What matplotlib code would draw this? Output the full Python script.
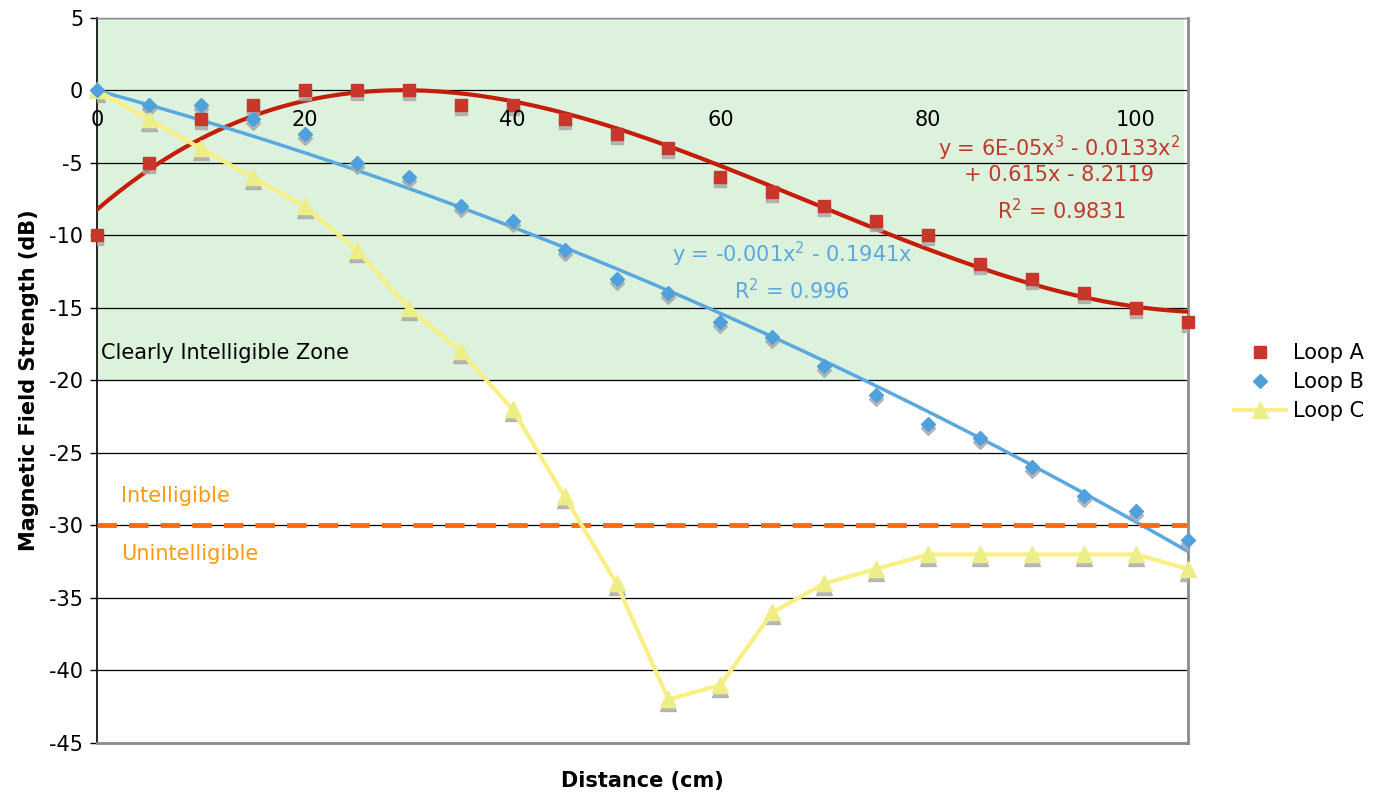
import numpy as np
import matplotlib
matplotlib.use("Agg")
import matplotlib.pyplot as plt
import matplotlib.transforms as mtransforms

distance = [0, 5, 10, 15, 20, 25, 30, 35, 40, 45, 50, 55, 60, 65, 70, 75, 80, 85, 90, 95, 100, 105]
loop_a = [-10, -5, -2, -1, 0, 0, 0, -1, -1, -2, -3, -4, -6, -7, -8, -9, -10, -12, -13, -14, -15, -16]
loop_b = [0, -1, -1, -2, -3, -5, -6, -8, -9, -11, -13, -14, -16, -17, -19, -21, -23, -24, -26, -28, -29, -31]
loop_c = [0, -2, -4, -6, -8, -11, -15, -18, -22, -28, -34, -42, -41, -36, -34, -33, -32, -32, -32, -32, -32, -33]
y_ticks = [5, 0, -5, -10, -15, -20, -25, -30, -35, -40, -45]
x_ticks = [0, 20, 40, 60, 80, 100]
zone_top, zone_bottom = 5, -20
threshold = -30

FS = 15
plt.rcParams['font.family'] = ['DejaVu Sans']
fig = plt.figure(figsize=(13.82, 7.93), dpi=100)
ax = fig.add_axes([0.0702, 0.0631, 0.7894, 0.9142])
ax.set_xlim(0, 105)
ax.set_ylim(-45, 5)

# green zone
ax.axhspan(zone_bottom, zone_top, xmin=0, xmax=104.5/105, color='#dcf2dc', zorder=0)
for yv in y_ticks:
    ax.axhline(yv, color='#000000', lw=0.9, zorder=1)

x = np.array(distance, dtype=float)
# trendlines
xs = np.linspace(0, 105, 300)
ca = np.polyfit(x, loop_a, 3)
ax.plot(xs, np.polyval(ca, xs), color='#c41e0a', lw=3, zorder=3)
A = np.vstack([x**2, x]).T
cb, *_ = np.linalg.lstsq(A, np.array(loop_b, float), rcond=None)
ax.plot(xs, cb[0]*xs**2 + cb[1]*xs, color='#5aa8e0', lw=2.5, zorder=3)

ax.axhline(threshold, color='#ff6a0a', lw=3.5, dashes=(4, 2.5), zorder=4)

shadow = mtransforms.offset_copy(ax.transData, fig=fig, x=0, y=-4, units='dots')
sh = dict(color='#a8a8a8', alpha=0.8, linestyle='none', transform=shadow, zorder=4)
ax.plot(x, loop_a, marker='s', ms=8.5, **sh)
ax.plot(x, loop_b, marker='D', ms=7, **sh)
ax.plot(x, loop_c, marker='^', ms=12, **sh)

ax.plot(x, loop_c, color='#f8f084', lw=3, marker='^', ms=12, mfc='#eeee88', mec='#eeee88',
        label='Loop C', zorder=5, clip_on=False)
ax.plot(x, loop_a, 's', color='#c9362c', ms=8.5, label='Loop A', zorder=6, clip_on=False)
ax.plot(x, loop_b, 'D', color='#4fa0dc', ms=7, label='Loop B', zorder=6, clip_on=False)

# axes styling
ax.set_yticks(y_ticks)
ax.set_yticklabels([str(v) for v in y_ticks])
ax.set_xticks([])
for v in x_ticks:
    ax.text(v, -1.35, str(v), ha='center', va='top', fontsize=FS, zorder=7)
ax.tick_params(axis='y', length=5, width=1, labelsize=FS, pad=5)
ax.spines['left'].set_color('#000000')
ax.spines['left'].set_linewidth(1.2)
for s in ['right', 'bottom']:
    ax.spines[s].set_color('#8c8c8c')
    ax.spines[s].set_linewidth(2)
ax.spines['top'].set_color('#8c8c8c')
ax.spines['top'].set_linewidth(1)

ax.set_ylabel('Magnetic Field Strength (dB)', fontsize=FS, fontweight='bold', labelpad=7)
ax.set_xlabel('Distance (cm)', fontsize=FS, fontweight='bold', labelpad=20)

red = '#c0392b'
ax.text(92.6, -3.97, 'y = 6E-05x$^3$ - 0.0133x$^2$', color=red, ha='center', va='center', fontsize=FS, zorder=7)
ax.text(92.6, -5.83, '+ 0.615x - 8.2119', color=red, ha='center', va='center', fontsize=FS, zorder=7)
ax.text(92.8, -8.31, 'R$^2$ = 0.9831', color=red, ha='center', va='center', fontsize=FS, zorder=7)
blue = '#5aa8e0'
ax.text(66.9, -11.3, 'y = -0.001x$^2$ - 0.1941x', color=blue, ha='center', va='center', fontsize=FS, zorder=7)
ax.text(66.9, -13.8, 'R$^2$ = 0.996', color=blue, ha='center', va='center', fontsize=FS, zorder=7)

ax.text(0.4, -18.1, 'Clearly Intelligible Zone', color='black', ha='left', va='center', fontsize=FS, zorder=7)
orange = '#ff9a10'
ax.text(2.3, -27.97, 'Intelligible', color=orange, ha='left', va='center', fontsize=FS, zorder=7)
ax.text(2.3, -31.97, 'Unintelligible', color=orange, ha='left', va='center', fontsize=FS, zorder=7)

h, l = ax.get_legend_handles_labels()
order = [l.index('Loop A'), l.index('Loop B'), l.index('Loop C')]
leg = fig.legend([h[i] for i in order], [l[i] for i in order], loc='center left',
                 bbox_to_anchor=(0.881, 0.518), frameon=False, fontsize=FS,
                 handlelength=2.5, handletextpad=0.3, labelspacing=0.42, borderpad=0.3)

fig.savefig('out.png', dpi=100)
